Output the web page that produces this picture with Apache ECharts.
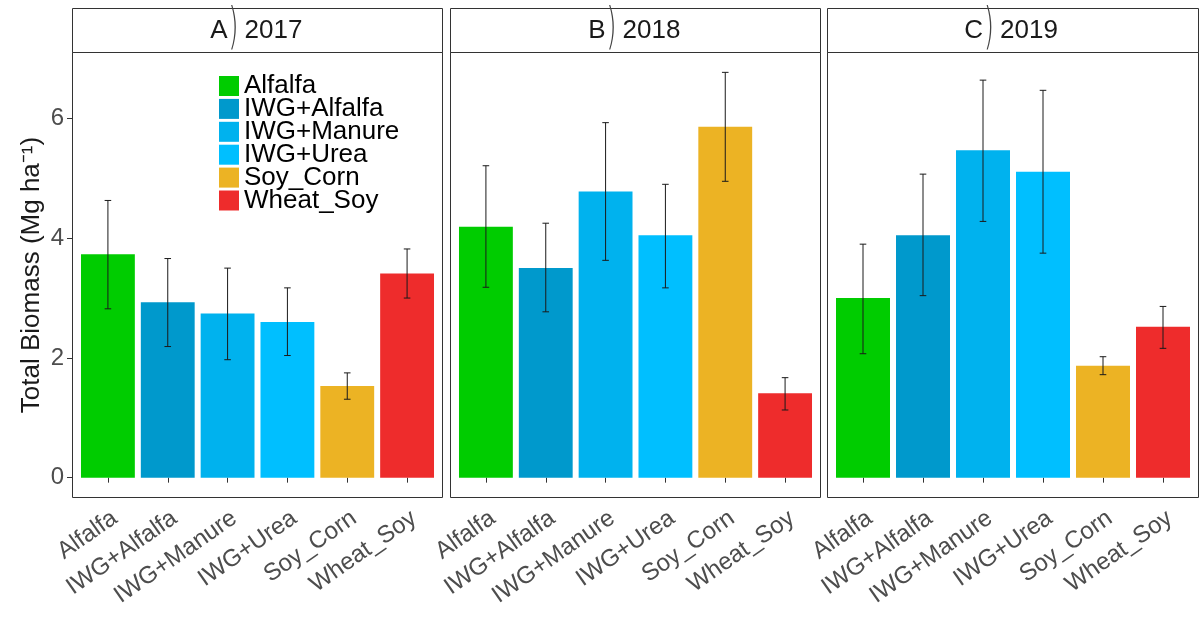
<!DOCTYPE html>
<html>
<head>
<meta charset="utf-8">
<script src="https://cdn.jsdelivr.net/npm/echarts@6/dist/echarts.min.js"></script>
<style>
  html, body { margin: 0; padding: 0; background: #fff; }
  #chart { width: 1201px; height: 618px; }
</style>
</head>
<body>
<div id="chart"></div>
<script>
const treatments = ['Alfalfa', 'IWG+Alfalfa', 'IWG+Manure', 'IWG+Urea', 'Soy_Corn', 'Wheat_Soy'];
const colors = ['#00CC00', '#0099CC', '#00B2EE', '#00BFFF', '#ECB324', '#EE2C2C'];
const panelLetters = ['A', 'B', 'C'];
const panelYears = ['2017', '2018', '2019'];
const yTicks = [0, 2, 4, 6];

// mean and error bar ends, one array per year
const mean2017 = [3.73, 2.93, 2.74, 2.60, 1.53, 3.41];
const low2017 = [2.82, 2.19, 1.97, 2.04, 1.31, 3.00];
const high2017 = [4.63, 3.66, 3.50, 3.17, 1.75, 3.82];
const mean2018 = [4.19, 3.50, 4.78, 4.05, 5.86, 1.41];
const low2018 = [3.18, 2.77, 3.63, 3.17, 4.95, 1.13];
const high2018 = [5.21, 4.25, 5.93, 4.90, 6.77, 1.67];
const mean2019 = [3.00, 4.05, 5.47, 5.11, 1.87, 2.52];
const low2019 = [2.07, 3.04, 4.28, 3.75, 1.72, 2.16];
const high2019 = [3.90, 5.07, 6.64, 6.47, 2.02, 2.86];

const means = [mean2017, mean2018, mean2019];
const lows = [low2017, low2018, low2019];
const highs = [high2017, high2018, high2019];

const FONT = 'Liberation Sans';
const panelLeft = [72, 450, 827];
const panelWidth = [371, 371, 372];
const plotTop = 52, plotBottom = 498, stripTop = 8;
const inset = 6;

const chart = echarts.init(document.getElementById('chart'));

const grids = [], xAxes = [], yAxes = [], series = [], graphics = [];

panelLeft.forEach((left, p) => {
  grids.push({
    left: left + inset,
    width: panelWidth[p] - 2 * inset,
    top: plotTop,
    height: plotBottom - plotTop
  });
  xAxes.push({
    type: 'category',
    gridIndex: p,
    data: treatments,
    axisLine: { show: false },
    axisTick: { show: true, alignWithLabel: true, length: 5, lineStyle: { color: '#333' } },
    axisLabel: {
      rotate: 35,
      align: 'right',
      verticalAlign: 'top',
      margin: 8,
      fontFamily: FONT,
      fontSize: 24,
      color: '#4D4D4D',
      interval: 0
    },
    splitLine: { show: false }
  });
  yAxes.push({
    type: 'value',
    gridIndex: p,
    min: -0.34,
    max: 7.11,
    show: p === 0,
    offset: inset,
    name: p === 0 ? 'Total Biomass (Mg ha⁻¹)' : '',
    nameLocation: 'middle',
    nameGap: 27,
    nameTextStyle: { fontFamily: FONT, fontSize: 26, color: '#1A1A1A' },
    axisLine: { show: false },
    axisTick: { show: true, length: 5, lineStyle: { color: '#333' }, customValues: yTicks },
    axisLabel: { fontFamily: FONT, fontSize: 24, color: '#4D4D4D', margin: 8, customValues: yTicks },
    splitLine: { show: false }
  });

  treatments.forEach((name, t) => {
    series.push({
      type: 'bar',
      name: name,
      xAxisIndex: p,
      yAxisIndex: p,
      stack: 'panel' + p,
      barWidth: '90%',
      itemStyle: { color: colors[t] },
      data: treatments.map((_, i) => (i === t ? means[p][t] : '-')),
      emphasis: { disabled: true }
    });
  });

  series.push({
    type: 'custom',
    xAxisIndex: p,
    yAxisIndex: p,
    z: 5,
    data: treatments.map((_, i) => [i, lows[p][i], highs[p][i]]),
    encode: { x: 0, y: [1, 2] },
    renderItem: function (params, api) {
      const top = api.coord([api.value(0), api.value(2)]);
      const bot = api.coord([api.value(0), api.value(1)]);
      const half = api.size([1, 0])[0] * 0.055;
      const style = { stroke: '#1A1A1A', lineWidth: 1 };
      return {
        type: 'group',
        children: [
          { type: 'line', shape: { x1: top[0], y1: top[1], x2: bot[0], y2: bot[1] }, style: style },
          { type: 'line', shape: { x1: top[0] - half, y1: top[1], x2: top[0] + half, y2: top[1] }, style: style },
          { type: 'line', shape: { x1: bot[0] - half, y1: bot[1], x2: bot[0] + half, y2: bot[1] }, style: style }
        ]
      };
    }
  });

  // strip and panel frame
  graphics.push({
    type: 'rect',
    shape: { x: left + 0.5, y: stripTop + 0.5, width: panelWidth[p] - 1, height: plotTop - stripTop },
    style: { fill: '#fff', stroke: '#333', lineWidth: 1 },
    z: 0
  });
  graphics.push({
    type: 'rect',
    shape: { x: left + 0.5, y: plotTop + 0.5, width: panelWidth[p] - 1, height: plotBottom - plotTop - 1 },
    style: { fill: 'none', stroke: '#333', lineWidth: 1 },
    z: 0
  });
  const cx = left + panelWidth[p] / 2;
  const cy = (stripTop + plotTop) / 2 + 1;
  graphics.push({
    type: 'text', x: cx - 30, y: cy, z: 10,
    style: { text: panelLetters[p], font: '26px "' + FONT + '"', fill: '#1A1A1A', textAlign: 'right', textVerticalAlign: 'middle' }
  });
  graphics.push({
    type: 'text', x: cx - 24, y: cy - 1, z: 10, scaleY: 2.05, scaleX: 1.1,
    style: { text: ')', font: '200 24px "DejaVu Sans"', fill: '#444', textAlign: 'center', textVerticalAlign: 'middle' }
  });
  graphics.push({
    type: 'text', x: cx - 13, y: cy, z: 10,
    style: { text: panelYears[p], font: '26px "' + FONT + '"', fill: '#1A1A1A', textAlign: 'left', textVerticalAlign: 'middle' }
  });
});

chart.setOption({
  backgroundColor: '#fff',
  animation: false,
  grid: grids,
  xAxis: xAxes,
  yAxis: yAxes,
  legend: {
    data: treatments,
    orient: 'vertical',
    left: 219,
    top: 73,
    padding: 0,
    itemWidth: 20,
    itemHeight: 20,
    itemGap: -3.1,
    icon: 'rect',
    selectedMode: false,
    textStyle: { fontFamily: FONT, fontSize: 26, color: '#000' }
  },
  graphic: graphics,
  series: series
});
</script>
</body>
</html>
